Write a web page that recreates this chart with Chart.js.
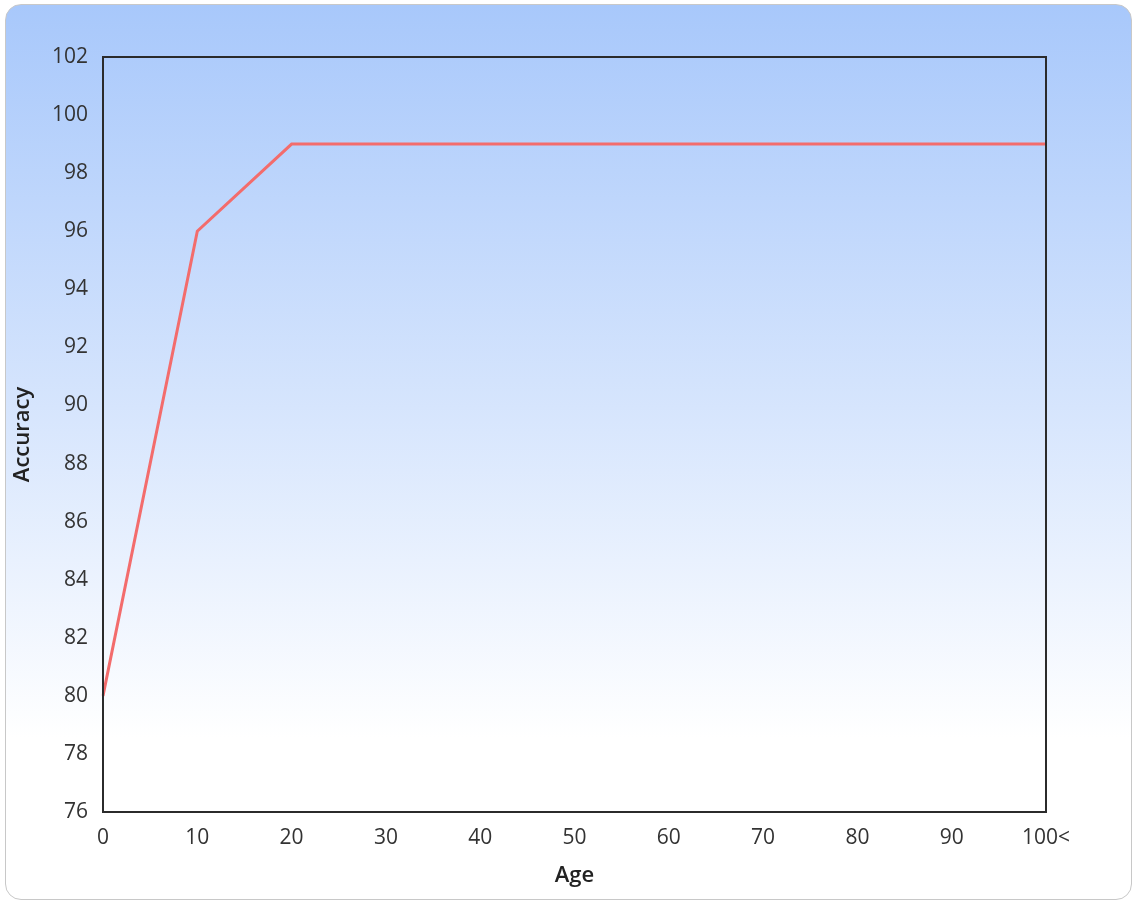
<!DOCTYPE html>
<html>
<head>
<meta charset="utf-8">
<script src="https://cdn.jsdelivr.net/npm/chart.js@4"></script>
<style>
  html, body { margin: 0; padding: 0; background: #fff; }
  #frame {
    position: absolute; left: 5px; top: 4px; width: 1125px; height: 894px;
    border: 1px solid #c8c8c8; border-radius: 16px;
    background: linear-gradient(to bottom, #a8c8fb 0%, #d6e5fd 45%, #ffffff 82%);
  }
  #chart { position: absolute; left: 0; top: 0; }
</style>
</head>
<body>
<div id="frame"></div>
<canvas id="chart" width="1134" height="902"></canvas>
<script>
const ageLabels = ['0', '10', '20', '30', '40', '50', '60', '70', '80', '90', '100<'];
const accuracy = [80, 96, 99, 99, 99, 99, 99, 99, 99, 99, 99];
const yMin = 76, yMax = 102, yStep = 2;

// black frame around the plot area
const plotFrame = {
    id: 'plotFrame',
    afterDraw(chart) {
        const { ctx, chartArea } = chart;
        ctx.save();
        ctx.strokeStyle = '#2b2b2b';
        ctx.lineWidth = 2;
        ctx.strokeRect(chartArea.left, chartArea.top, chartArea.right - chartArea.left, chartArea.bottom - chartArea.top);
        ctx.restore();
    }
};

new Chart(document.getElementById('chart').getContext('2d'), {
    type: 'line',
    data: {
        labels: ageLabels,
        datasets: [{
            label: 'Accuracy',
            data: accuracy,
            borderColor: '#f36c6c',
            borderWidth: 3,
            pointRadius: 0,
            tension: 0,
            fill: false
        }]
    },
    options: {
        responsive: false,
        animation: false,
        layout: { padding: { top: 57, right: 88, left: 0, bottom: 0 } },
        plugins: { legend: { display: false }, tooltip: { enabled: false } },
        scales: {
            x: {
                offset: false,
                grid: { display: false, drawTicks: false },
                border: { display: false },
                ticks: { color: '#333', font: { family: 'Open Sans', size: 21 }, padding: 13, maxRotation: 0, autoSkip: false },
                title: { display: true, text: 'Age', color: '#222', font: { family: 'Open Sans', size: 22, weight: '600' }, padding: { top: 4, bottom: 13 } },
                afterFit(scale) { scale.height = 90; }
            },
            y: {
                min: yMin,
                max: yMax,
                grid: { display: false, drawTicks: false },
                border: { display: false },
                ticks: { stepSize: yStep, color: '#333', font: { family: 'Open Sans', size: 21 }, padding: 15 },
                title: { display: true, text: 'Accuracy', color: '#222', font: { family: 'Open Sans', size: 22, weight: '600' }, padding: { top: 10, bottom: 4 } },
                afterFit(scale) { scale.width = 103; }
            }
        }
    },
    plugins: [plotFrame]
});
</script>
</body>
</html>
